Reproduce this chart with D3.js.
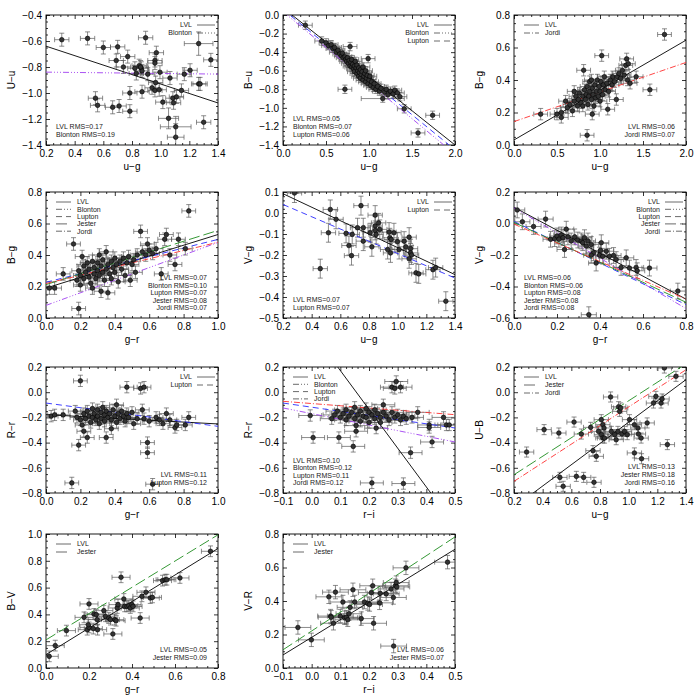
<!DOCTYPE html>
<html>
<head>
<meta charset="utf-8">
<script src="https://cdnjs.cloudflare.com/ajax/libs/d3/7.8.5/d3.min.js"></script>
<style>
body { margin: 0; background: #fff; }
svg { font-family: "Liberation Sans Narrow", "Liberation Sans", Arial, sans-serif; }
</style>
</head>
<body>
<svg width="700" height="700"></svg>
<script>
// ---- data ----
// points: [x, y] or [x, y, xerr, yerr] when the error differs from the panel default

var ptsUu = [[0.31,-0.59],[0.49,-0.58],[0.60,-0.65],[0.70,-0.645],[0.69,-0.75],[0.77,-0.72],[0.74,-0.80],[0.895,-0.575],
  [0.97,-0.69],[0.96,-0.75],[0.96,-0.77],[0.85,-0.79],[0.82,-0.81],[0.865,-0.81],[0.87,-0.83],[0.83,-0.85],[0.86,-0.80],
  [0.91,-0.855],[0.995,-0.84],[1.065,-0.885],[1.165,-0.855],[1.205,-0.825],[1.265,-0.93],[1.275,-0.93],[1.35,-0.745],
  [1.265,-0.62,0.10,0.09],[0.965,-0.92],[0.94,-0.96],[0.96,-0.98],[0.99,-0.975],[0.87,-0.99],[0.785,-1.0],[1.145,-0.98],
  [1.015,-1.07],[1.085,-1.04],[1.09,-1.075],[1.11,-1.03],[0.545,-1.04],[0.56,-1.095],[0.665,-1.11],[0.71,-1.10],
  [0.785,-1.14],[1.055,-1.195,0.07,0.08],[1.105,-1.26,0.107,0.08],[1.105,-1.34,0.058,0.104],[1.30,-1.225]];
var errUu = [0.05, 0.05];
var fitsUu = [["LVL",-0.567,-0.364],["Blonton",-0.837,-0.0125]];
var rmsUu = [0.17, 0.19];

var ptsBu = [[0.26,-0.11],[0.45,-0.28],[0.50,-0.30],[0.53,-0.33],[0.56,-0.32],[0.58,-0.36],[0.60,-0.35],[0.62,-0.40],
  [0.64,-0.38],[0.66,-0.42],[0.68,-0.44],[0.69,-0.41],[0.70,-0.46],[0.72,-0.45],[0.72,-0.80],[0.73,-0.48],[0.74,-0.50],
  [0.75,-0.46],[0.76,-0.52],[0.77,-0.49],[0.78,-0.34],[0.78,-0.55],[0.79,-0.51],[0.80,-0.56],[0.80,-0.48],[0.81,-0.53],
  [0.82,-0.58],[0.83,-0.55],[0.83,-0.61],[0.84,-0.50],[0.85,-0.57],[0.86,-0.63],[0.86,-0.54],[0.87,-0.60],[0.88,-0.66],
  [0.88,-0.57],[0.89,-0.62],[0.90,-0.59],[0.90,-0.68],[0.91,-0.64],[0.92,-0.61],[0.93,-0.70],[0.93,-0.56],[0.94,-0.66],
  [0.95,-0.63],[0.96,-0.72],[0.96,-0.60],[0.97,-0.68],[0.98,-0.65],[0.99,-0.47],[0.99,-0.74],[1.00,-0.70],[1.01,-0.66],
  [1.02,-0.76],[1.03,-0.72],[1.05,-0.78],[1.06,-0.74],[1.08,-0.80],[1.10,-0.77],[1.12,-0.82],[1.14,-0.79],
  [1.16,-0.90,0.25,0.04],[1.18,-0.83],[1.20,-0.80],[1.22,-0.86],[1.25,-0.82],[1.28,-0.85],[1.30,-0.81],[1.33,-0.84],
  [1.36,-0.88],[1.41,-1.01],[1.57,-1.27],[1.74,-1.08]];
var errBu = [0.08, 0.045];
var fitsBu = [["LVL",0.078,-0.739],["Blonton",0.036,-0.768],["Lupton",0.06,-0.756]];
var rmsBu = [0.05, 0.07, 0.06];

var ptsBgU = [[0.31,0.19],[0.50,0.19],[0.55,0.17],[0.55,0.20],[0.60,0.27],[0.62,0.23],[0.65,0.25],[0.68,0.21],[0.70,0.27],
  [0.70,0.33],[0.72,0.30],[0.74,0.24],[0.75,0.28],[0.76,0.32],[0.78,0.26],[0.80,0.30],[0.80,0.24],[0.81,0.46],[0.82,0.34],
  [0.83,0.28],[0.84,0.31],[0.85,0.06],[0.85,0.36],[0.86,0.25],[0.87,0.30],[0.88,0.33],[0.88,0.39],[0.90,0.28],[0.90,0.40],
  [0.91,0.19],[0.91,0.35],[0.92,0.31],[0.93,0.24],[0.94,0.37],[0.95,0.29],[0.96,0.33],[0.97,0.40],[0.98,0.30],[0.99,0.36],
  [1.00,0.27],[1.00,0.33],[1.01,0.39],[1.02,0.55],[1.03,0.31],[1.04,0.37],[1.05,0.42],[1.06,0.34],[1.08,0.38],[1.09,0.22],
  [1.10,0.33],[1.12,0.40],[1.14,0.37],[1.15,0.42],[1.17,0.39],[1.19,0.28],[1.20,0.42],[1.22,0.44],[1.24,0.41],[1.26,0.46],
  [1.28,0.43],[1.30,0.49],[1.31,0.53],[1.32,0.40],[1.33,0.50],[1.35,0.38],[1.42,0.42],[1.58,0.34],[1.75,0.68]];
var errBgU = [0.08, 0.035];
var fitsBgU = [["LVL",0.031,0.307],["Jordi",0.144,0.182]];
var rmsBgU = [0.06, 0.07];

var ptsBgG = [[0.02,0.19],[0.05,0.19],[0.10,0.28],[0.16,0.47],[0.18,0.24],[0.19,0.30],[0.19,0.06],[0.20,0.27],[0.20,0.21],
  [0.21,0.39],[0.22,0.33],[0.22,0.25],[0.23,0.29],[0.24,0.35],[0.25,0.26],[0.25,0.31],[0.26,0.22],[0.27,0.19],[0.27,0.36],
  [0.28,0.28],[0.28,0.32],[0.29,0.25],[0.30,0.30],[0.30,0.35],[0.31,0.40],[0.31,0.27],[0.32,0.17],[0.32,0.33],[0.33,0.29],
  [0.33,0.37],[0.34,0.24],[0.35,0.31],[0.35,0.42],[0.36,0.16],[0.36,0.34],[0.37,0.28],[0.38,0.36],[0.38,0.25],[0.39,0.32],
  [0.40,0.38],[0.40,0.29],[0.41,0.34],[0.42,0.23],[0.43,0.36],[0.44,0.31],[0.45,0.38],[0.46,0.27],[0.47,0.35],[0.48,0.39],
  [0.49,0.24],[0.50,0.34],[0.51,0.37],[0.52,0.29],[0.53,0.40],[0.55,0.55],[0.56,0.42],[0.58,0.40],[0.59,0.47],[0.60,0.43],
  [0.62,0.41],[0.64,0.44],[0.67,0.28],[0.69,0.50],[0.70,0.53],[0.72,0.40],[0.75,0.34],[0.77,0.50],[0.81,0.44],[0.83,0.68]];
var errBgG = [0.04, 0.04];
var fitsBgG = [["LVL",0.19,0.34],["Blonton",0.08,0.40],["Lupton",0.227,0.272],["Jester",0.212,0.344],["Jordi",0.219,0.262]];
var rmsBgG = [0.07, 0.10, 0.07, 0.08, 0.07];

var ptsVgU = [[0.28,0.095],[0.46,-0.265],[0.53,0.017],[0.517,-0.094],[0.57,-0.03],[0.64,-0.097],[0.66,-0.155],[0.678,-0.203],
  [0.683,-0.102],[0.744,0.035],[0.72,-0.07],[0.76,-0.07],[0.76,-0.134],[0.808,-0.094],[0.82,-0.161],[0.843,-0.01],
  [0.843,-0.062],[0.843,-0.083],[0.85,-0.102],[0.867,-0.047],[0.875,-0.078],[0.94,-0.091],[0.945,-0.118],[0.955,-0.126],
  [0.93,-0.174],[0.95,-0.19],[0.998,-0.137],[1.01,-0.174],[0.974,-0.094],[1.045,-0.134],[1.057,-0.161],[1.08,-0.115],
  [1.09,-0.17],[1.09,-0.19],[1.097,-0.20],[1.08,-0.218],[1.128,-0.285],[1.147,-0.29],[1.246,-0.27],[1.265,-0.26],[1.336,-0.42]];
var errVgU = [0.05, 0.045];
var fitsVgU = [["LVL",0.156,-0.321],["Lupton",0.099,-0.292]];
var rmsVgU = [0.07, 0.07];

var ptsVgG = [[0.015,0.086],[0.039,0.011],[0.091,-0.019],[0.147,0.028],[0.17,-0.10],[0.189,-0.096],[0.20,-0.079],[0.209,-0.10],
  [0.22,-0.073],[0.228,-0.09],[0.235,-0.165],[0.243,-0.036],[0.251,-0.085],[0.266,-0.111],[0.282,-0.085],[0.297,-0.105],
  [0.313,-0.111],[0.32,-0.122],[0.328,-0.09],[0.336,-0.143],[0.344,-0.111],[0.359,-0.133],[0.37,-0.186],[0.359,-0.201],
  [0.382,-0.251],[0.398,-0.201],[0.402,-0.171],[0.406,-0.122],[0.413,-0.208],[0.429,-0.176],[0.444,-0.208],[0.463,-0.203],
  [0.475,-0.229],[0.498,-0.279],[0.522,-0.218],[0.537,-0.283],[0.568,-0.279],[0.573,-0.30],[0.63,-0.283],[0.762,-0.429],
  [0.348,-0.579]];
var errVgG = [0.035, 0.05];
var fitsVgG = [["LVL",0.103,-0.729],["Blonton",0.10,-0.80],["Lupton",0.013,-0.66],["Jester",0.007,-0.634],["Jordi",-0.004,-0.595]];
var rmsVgG = [0.06, 0.06, 0.08, 0.08, 0.08];

var ptsRrG = [[0.03,-0.19],[0.05,-0.18],[0.10,-0.18],[0.15,-0.72],[0.17,-0.15],[0.18,-0.20],[0.19,-0.42],[0.20,0.09],
  [0.20,-0.22],[0.21,-0.26],[0.22,-0.31],[0.22,-0.17],[0.23,-0.21],[0.24,-0.36],[0.24,-0.15],[0.25,-0.19],[0.26,-0.24],
  [0.27,-0.13],[0.27,-0.20],[0.28,-0.17],[0.29,-0.22],[0.30,-0.14],[0.30,-0.19],[0.31,-0.25],[0.32,-0.16],[0.32,-0.21],
  [0.33,-0.12],[0.34,-0.18],[0.34,-0.23],[0.35,-0.36],[0.35,-0.15],[0.36,-0.20],[0.37,-0.17],[0.38,-0.29],[0.38,-0.22],
  [0.39,-0.14],[0.40,-0.19],[0.41,-0.10],[0.41,-0.24],[0.42,-0.17],[0.43,-0.21],[0.44,-0.15],[0.45,-0.19],[0.46,-0.23],
  [0.47,0.04],[0.47,-0.17],[0.48,-0.20],[0.50,-0.16],[0.51,-0.25],[0.53,-0.21],[0.55,0.03],[0.56,-0.14],[0.57,0.04],
  [0.57,-0.21],[0.59,-0.40],[0.59,-0.48],[0.60,-0.23],[0.62,-0.73],[0.64,-0.20],[0.66,-0.22],[0.68,-0.25],[0.70,-0.17],
  [0.72,-0.22],[0.75,-0.28],[0.76,-0.26],[0.81,-0.26],[0.83,-0.20]];
var errRrG = [0.04, 0.045];
var fitsRrG = [["LVL",-0.178,-0.074],["Lupton",-0.086,-0.185]];
var rmsRrG = [0.11, 0.12];

var ptsRrI = [[0.295,0.085],[0.28,0.04],[0.29,0.03],[0.31,0.04],[-0.005,-0.185],[0.005,-0.36],[0.095,-0.36],[0.145,-0.43],
  [0.155,-0.265],[0.155,-0.31],[0.225,-0.285],[0.21,-0.72],[0.32,-0.725],[0.345,-0.48],[0.42,-0.395],
  [0.07,-0.21],[0.08,-0.18],[0.09,-0.15],[0.10,-0.20],[0.11,-0.17],[0.12,-0.22],[0.12,-0.14],[0.13,-0.19],[0.14,-0.16],
  [0.15,-0.21],[0.15,-0.12],[0.16,-0.18],[0.17,-0.15],[0.17,-0.23],[0.18,-0.19],[0.19,-0.13],[0.19,-0.20],[0.20,-0.16],
  [0.20,-0.24],[0.21,-0.18],[0.22,-0.14],[0.22,-0.21],[0.23,-0.17],[0.24,-0.20],[0.24,-0.24],[0.25,-0.10],[0.25,-0.16],
  [0.26,-0.19],[0.27,-0.22],[0.28,-0.16],[0.29,-0.20],[0.30,-0.18],[0.31,-0.22],[0.32,-0.19],[0.33,-0.21],[0.35,-0.20],
  [0.37,-0.16],[0.41,-0.26],[0.41,-0.28],[0.46,-0.20],[0.47,-0.26],[0.48,-0.26]];
var errRrI = [0.04, 0.045];
var fitsRrI = [["LVL",0.48,-3.08],["Blonton",-0.17,-0.45],["Lupton",-0.119,-0.33],["Jordi",-0.09,-0.177]];
var rmsRrI = [0.10, 0.12, 0.11, 0.12];

var ptsUB = [[0.288,-0.475],[0.41,-0.297],[0.513,-0.324],[0.52,-0.676],[0.543,-0.747],[0.619,-0.237],[0.635,-0.668],
  [0.686,-0.676],[0.67,-0.332],[0.735,-0.279],[0.751,-0.464],[0.758,-0.715],[0.774,-0.509],[0.79,-0.311],[0.81,-0.337],
  [0.82,-0.363],[0.809,-0.218],[0.82,-0.258],[0.828,-0.284],[0.832,-0.364],[0.874,-0.038],[0.879,-0.311],[0.902,-0.337],
  [0.913,-0.377],[0.925,-0.311],[0.93,-0.115],[0.937,-0.152],[0.944,-0.125],[0.953,-0.332],[0.971,-0.311],[0.99,-0.337],
  [1.006,-0.218],[1.04,-0.258],[1.064,-0.284],[1.068,-0.332],[1.087,-0.364],[1.04,-0.482],[1.09,-0.528],[1.129,-0.244],
  [1.173,-0.086],[1.19,-0.033],[1.226,-0.086],[1.233,-0.054],[1.249,0.192],[1.33,0.126],[1.27,-0.416]];
var errUB = [0.05, 0.04];
var fitsUB = [["LVL",-1.082,0.844],["Jester",-0.802,0.734],["Jordi",-0.855,0.738]];
var rmsUB = [0.13, 0.18, 0.16];

var ptsBV = [[0.015,0.087],[0.043,0.167],[0.095,0.279],[0.349,0.677],[0.20,0.478],[0.177,0.378],[0.223,0.403],[0.234,0.398],
  [0.238,0.361],[0.192,0.286],[0.20,0.303],[0.197,0.323],[0.22,0.294],[0.24,0.286],[0.269,0.428],[0.277,0.386],[0.292,0.373],
  [0.30,0.361],[0.311,0.254],[0.32,0.361],[0.326,0.353],[0.331,0.448],[0.335,0.473],[0.362,0.515],[0.366,0.46],[0.377,0.46],
  [0.385,0.465],[0.392,0.448],[0.40,0.473],[0.405,0.46],[0.438,0.373],[0.446,0.535],[0.465,0.565],[0.485,0.522],
  [0.495,0.527],[0.542,0.652],[0.554,0.659],[0.562,0.659],[0.623,0.672],[0.765,0.871]];
var errBV = [0.042, 0.04];
var fitsBV = [["LVL",0.10,0.99],["Jester",0.21,0.98]];
var rmsBV = [0.05, 0.09];

var ptsVR = [[-0.048,0.242],[-0.001,0.168],[0.06,0.425],[0.083,0.453],[0.066,0.31],[0.068,0.303],[0.076,0.267],[0.10,0.31],
  [0.109,0.394],[0.115,0.30],[0.121,0.303],[0.126,0.288],[0.13,0.324],[0.134,0.362],[0.144,0.467],[0.15,0.394],[0.173,0.295],
  [0.184,0.394],[0.196,0.385],[0.202,0.379],[0.208,0.45],[0.213,0.491],[0.216,0.267],[0.237,0.389],[0.239,0.446],
  [0.26,0.442],[0.277,0.472],[0.285,0.421],[0.292,0.491],[0.295,0.51],[0.297,0.484],[0.329,0.598],[0.286,0.131],[0.474,0.632]];
var errVR = [0.045, 0.04];
var fitsVR = [["LVL",0.183,1.052],["Jester",0.221,1.123]];
var rmsVR = [0.06, 0.07];

// tick values
var tUg = [0.2,0.4,0.6,0.8,1.0,1.2,1.4];
var tUg2 = [0.0,0.5,1.0,1.5,2.0];
var tGr = [0.0,0.2,0.4,0.6,0.8,1.0];
var tGr8 = [0.0,0.2,0.4,0.6,0.8];
var tRi = [-0.1,0.0,0.1,0.2,0.3,0.4,0.5];
var tYUu = [-1.4,-1.2,-1.0,-0.8,-0.6,-0.4];
var tYBu = [-1.4,-1.2,-1.0,-0.8,-0.6,-0.4,-0.2,0.0];
var tY08 = [0.0,0.2,0.4,0.6,0.8];
var tYVgU = [-0.5,-0.4,-0.3,-0.2,-0.1,0.0,0.1];
var tYVgG = [-0.6,-0.4,-0.2,0.0,0.2];
var tYRr = [-0.8,-0.6,-0.4,-0.2,0.0,0.2];
var tY10 = [0.0,0.2,0.4,0.6,0.8,1.0];

// ---- layout ----
var svg = d3.select("svg");
var colX = [46, 283, 514], boxW = 172;
var rowY = [15, 192, 367, 534], rowH = [130, 126, 126, 134];

var lineColor = {LVL: "#000", Blonton: "#a040f0", Lupton: "#2a2aff", Jester: "#1e8c1e", Jordi: "#ff3030"};
var lineDash = {LVL: null, Blonton: "6,2,1,2,1,2,1,2", Lupton: "6,4", Jester: "11,4", Jordi: "6,2,1,2"};

var panels = [
  {c:0, r:0, xl:"u−g", yl:"U−u", xd:[0.2,1.4], yd:[-1.4,-0.4], xt:tUg, yt:tYUu, xm:4, ym:4, pts:ptsUu, err:errUu, fits:fitsUu, rms:rmsUu, leg:"tr", rp:"bl"},
  {c:1, r:0, xl:"u−g", yl:"B−u", xd:[0,2], yd:[-1.4,0], xt:tUg2, yt:tYBu, xm:5, ym:4, pts:ptsBu, err:errBu, fits:fitsBu, rms:rmsBu, leg:"tr", rp:"bl"},
  {c:2, r:0, xl:"u−g", yl:"B−g", xd:[0,2], yd:[0,0.8], xt:tUg2, yt:tY08, xm:5, ym:4, pts:ptsBgU, err:errBgU, fits:fitsBgU, rms:rmsBgU, leg:"tl", rp:"br"},
  {c:0, r:1, xl:"g−r", yl:"B−g", xd:[0,1], yd:[0,0.8], xt:tGr, yt:tY08, xm:4, ym:4, pts:ptsBgG, err:errBgG, fits:fitsBgG, rms:rmsBgG, leg:"tl", rp:"br"},
  {c:1, r:1, xl:"u−g", yl:"V−g", xd:[0.2,1.4], yd:[-0.5,0.1], xt:tUg, yt:tYVgU, xm:4, ym:5, pts:ptsVgU, err:errVgU, fits:fitsVgU, rms:rmsVgU, leg:"tr", rp:"bl"},
  {c:2, r:1, xl:"g−r", yl:"V−g", xd:[0,0.8], yd:[-0.6,0.2], xt:tGr8, yt:tYVgG, xm:4, ym:4, pts:ptsVgG, err:errVgG, fits:fitsVgG, rms:rmsVgG, leg:"tr", rp:"bl"},
  {c:0, r:2, xl:"g−r", yl:"R−r", xd:[0,1], yd:[-0.8,0.2], xt:tGr, yt:tYRr, xm:4, ym:4, pts:ptsRrG, err:errRrG, fits:fitsRrG, rms:rmsRrG, leg:"tr", rp:"br"},
  {c:1, r:2, xl:"r−i", yl:"R−r", xd:[-0.1,0.5], yd:[-0.8,0.2], xt:tRi, yt:tYRr, xm:5, ym:4, pts:ptsRrI, err:errRrI, fits:fitsRrI, rms:rmsRrI, leg:"tl", rp:"bl"},
  {c:2, r:2, xl:"u−g", yl:"U−B", xd:[0.2,1.4], yd:[-0.8,0.2], xt:tUg, yt:tYRr, xm:4, ym:4, pts:ptsUB, err:errUB, fits:fitsUB, rms:rmsUB, leg:"tl", rp:"br"},
  {c:0, r:3, xl:"g−r", yl:"B−V", xd:[0,0.8], yd:[0,1], xt:tGr8, yt:tY10, xm:4, ym:4, pts:ptsBV, err:errBV, fits:fitsBV, rms:rmsBV, leg:"tl", rp:"br"},
  {c:1, r:3, xl:"r−i", yl:"V−R", xd:[-0.1,0.5], yd:[0,0.8], xt:tRi, yt:tY08, xm:5, ym:4, pts:ptsVR, err:errVR, fits:fitsVR, rms:rmsVR, leg:"tl", rp:"br"}
];

var fmt = d3.format(".1f");

function minors(ticks, n) {
  var out = [];
  for (var k = 0; k < ticks.length - 1; k++) {
    var step = (ticks[k+1] - ticks[k]) / n;
    for (var j = 1; j < n; j++) out.push(ticks[k] + j * step);
  }
  return out;
}

function styleAxis(sel) {
  sel.select(".domain").remove();
  sel.selectAll("line").attr("stroke", "#000").attr("stroke-width", 0.8);
  sel.selectAll("text").attr("font-size", "10px").attr("fill", "#000")
    .attr("font-family", "'Liberation Sans Narrow','Liberation Sans',Arial,sans-serif");
}

panels.forEach(function(p, i) {
  var h = rowH[p.r];
  var x = d3.scaleLinear().domain(p.xd).range([0, boxW]);
  var y = d3.scaleLinear().domain(p.yd).range([h, 0]);
  var g = svg.append("g").attr("transform", "translate(" + colX[p.c] + "," + rowY[p.r] + ")");

  g.append("clipPath").attr("id", "clip" + i)
    .append("rect").attr("width", boxW).attr("height", h);

  // axes: major + minor ticks on all four sides, pointing inward
  var mx = minors(p.xt, p.xm), my = minors(p.yt, p.ym);
  g.append("g").attr("transform", "translate(0," + h + ")")
    .call(d3.axisBottom(x).tickValues(p.xt).tickSizeInner(-4).tickSizeOuter(0).tickPadding(5).tickFormat(fmt)).call(styleAxis);
  g.append("g").attr("transform", "translate(0," + h + ")")
    .call(d3.axisBottom(x).tickValues(mx).tickSizeInner(-2).tickSizeOuter(0).tickFormat("")).call(styleAxis);
  g.append("g")
    .call(d3.axisTop(x).tickValues(p.xt).tickSizeInner(-4).tickSizeOuter(0).tickFormat("")).call(styleAxis);
  g.append("g")
    .call(d3.axisTop(x).tickValues(mx).tickSizeInner(-2).tickSizeOuter(0).tickFormat("")).call(styleAxis);
  g.append("g")
    .call(d3.axisLeft(y).tickValues(p.yt).tickSizeInner(-4).tickSizeOuter(0).tickPadding(4).tickFormat(fmt)).call(styleAxis);
  g.append("g")
    .call(d3.axisLeft(y).tickValues(my).tickSizeInner(-2).tickSizeOuter(0).tickFormat("")).call(styleAxis);
  g.append("g").attr("transform", "translate(" + boxW + ",0)")
    .call(d3.axisRight(y).tickValues(p.yt).tickSizeInner(-4).tickSizeOuter(0).tickFormat("")).call(styleAxis);
  g.append("g").attr("transform", "translate(" + boxW + ",0)")
    .call(d3.axisRight(y).tickValues(my).tickSizeInner(-2).tickSizeOuter(0).tickFormat("")).call(styleAxis);

  g.append("rect").attr("width", boxW).attr("height", h)
    .attr("fill", "none").attr("stroke", "#000").attr("stroke-width", 0.9);

  // axis titles
  g.append("text").attr("x", boxW / 2).attr("y", h + 25)
    .attr("text-anchor", "middle").attr("font-size", "10px").text(p.xl);
  g.append("text").attr("transform", "translate(-31," + (h / 2) + ") rotate(-90)")
    .attr("text-anchor", "middle").attr("font-size", "10px").text(p.yl);

  var plot = g.append("g").attr("clip-path", "url(#clip" + i + ")");

  // error bars
  var eb = plot.selectAll(".eb").data(p.pts).enter().append("g").attr("class", "eb")
    .attr("stroke", "#5a5a5a").attr("stroke-width", 0.7);
  function ex(d) { return d.length > 2 ? d[2] : p.err[0]; }
  function ey(d) { return d.length > 3 ? d[3] : p.err[1]; }
  eb.append("line")
    .attr("x1", function(d) { return x(d[0] - ex(d)); })
    .attr("x2", function(d) { return x(d[0] + ex(d)); })
    .attr("y1", function(d) { return y(d[1]); })
    .attr("y2", function(d) { return y(d[1]); });
  eb.append("line")
    .attr("x1", function(d) { return x(d[0]); })
    .attr("x2", function(d) { return x(d[0]); })
    .attr("y1", function(d) { return y(d[1] - ey(d)); })
    .attr("y2", function(d) { return y(d[1] + ey(d)); });
  [-1, 1].forEach(function(s) {
    eb.append("line")
      .attr("x1", function(d) { return x(d[0] + s * ex(d)); })
      .attr("x2", function(d) { return x(d[0] + s * ex(d)); })
      .attr("y1", function(d) { return y(d[1]) - 2.5; })
      .attr("y2", function(d) { return y(d[1]) + 2.5; });
    eb.append("line")
      .attr("x1", function(d) { return x(d[0]) - 2.5; })
      .attr("x2", function(d) { return x(d[0]) + 2.5; })
      .attr("y1", function(d) { return y(d[1] + s * ey(d)); })
      .attr("y2", function(d) { return y(d[1] + s * ey(d)); });
  });

  // fit lines
  plot.selectAll(".fit").data(p.fits).enter().append("line").attr("class", "fit")
    .attr("x1", x(p.xd[0])).attr("x2", x(p.xd[1]))
    .attr("y1", function(f) { return y(f[1] + f[2] * p.xd[0]); })
    .attr("y2", function(f) { return y(f[1] + f[2] * p.xd[1]); })
    .attr("stroke", function(f) { return lineColor[f[0]]; })
    .attr("stroke-dasharray", function(f) { return lineDash[f[0]]; })
    .attr("stroke-width", 0.9);

  // points
  plot.selectAll(".pt").data(p.pts).enter().append("circle").attr("class", "pt")
    .attr("cx", function(d) { return x(d[0]); })
    .attr("cy", function(d) { return y(d[1]); })
    .attr("r", 2.3)
    .attr("fill", "#333").attr("stroke", "#000").attr("stroke-width", 0.6);

  // legend
  var n = p.fits.length, lh = n > 3 ? 7.3 : 8;
  var leg = g.selectAll(".leg").data(p.fits).enter().append("g").attr("class", "leg")
    .attr("transform", function(f, k) { return "translate(0," + (10 + k * lh) + ")"; });
  var lx1 = p.leg == "tl" ? 10 : boxW - 21, lx2 = p.leg == "tl" ? 25 : boxW - 3;
  leg.append("line").attr("x1", lx1).attr("x2", lx2)
    .attr("stroke", "#444").attr("stroke-width", 0.8)
    .attr("stroke-dasharray", function(f) { return lineDash[f[0]]; });
  leg.append("text")
    .attr("x", p.leg == "tl" ? 31 : boxW - 26).attr("y", 2.4)
    .attr("text-anchor", p.leg == "tl" ? "start" : "end")
    .attr("font-size", "7px").attr("fill", "#1a1a1a")
    .text(function(f) { return f[0]; });

  // rms labels
  var rh = n > 3 ? 7.4 : 8;
  g.selectAll(".rms").data(p.fits).enter().append("text").attr("class", "rms")
    .attr("x", p.rp == "bl" ? 10 : boxW - 11)
    .attr("y", function(f, k) { return h - 8 - (n - 1 - k) * rh; })
    .attr("text-anchor", p.rp == "bl" ? "start" : "end")
    .attr("font-size", "7px").attr("fill", "#1a1a1a")
    .text(function(f, k) { return f[0] + " RMS=" + p.rms[k].toFixed(2); });
});
</script>
</body>
</html>
